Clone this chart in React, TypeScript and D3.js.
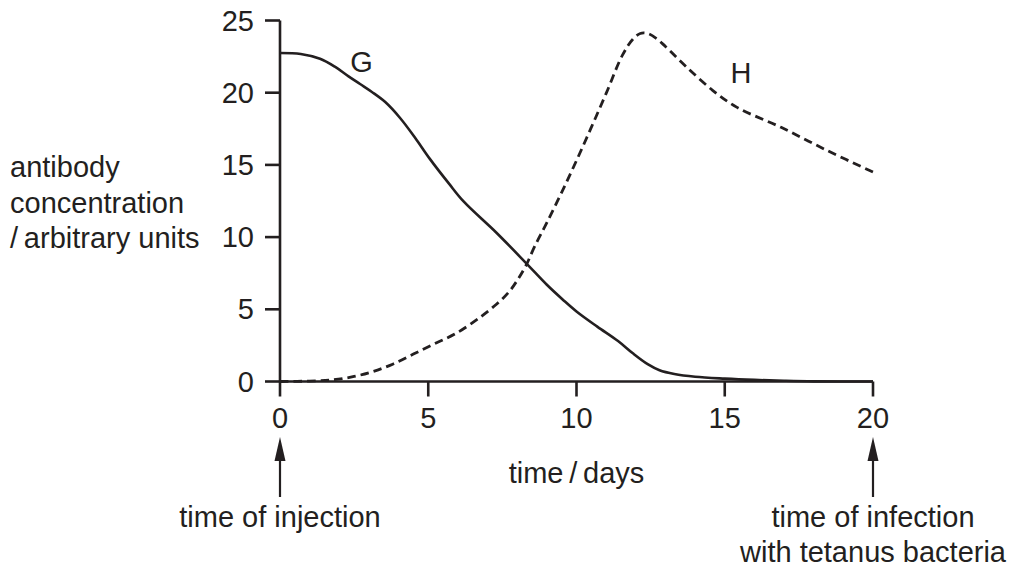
import React from "react";
import * as d3 from "d3";

const xTicks = [0, 5, 10, 15, 20];
const yTicks = [0, 5, 10, 15, 20, 25];

const seriesG: [number, number][] = [
  [0, 22.75], [0.7, 22.68], [1.35, 22.35], [1.85, 21.8], [2.3, 21.15], [2.7, 20.6],
  [3.1, 20.05], [3.55, 19.35], [4.05, 18.25], [4.55, 16.9], [5.06, 15.4],
  [5.7, 13.7], [6.2, 12.45], [7.3, 10.3], [8.3, 8.2], [9.0, 6.7], [9.55, 5.65],
  [10.0, 4.85], [10.7, 3.8], [11.4, 2.8], [11.9, 1.95], [12.4, 1.2], [12.8, 0.78],
  [13.3, 0.52], [14.0, 0.33], [15.0, 0.2], [16.0, 0.11], [17.0, 0.05], [18.0, 0.01],
  [20, 0],
];

const seriesH: [number, number][] = [
  [0, 0], [1, 0.03], [1.8, 0.12], [2.5, 0.35], [3.15, 0.7], [3.8, 1.2], [4.5, 1.9],
  [5.2, 2.6], [5.95, 3.35], [6.75, 4.45], [7.3, 5.35], [7.7, 6.15], [8.0, 7.0],
  [8.3, 8.05], [8.6, 9.4], [9.0, 11.0], [9.5, 13.1], [10.0, 15.3], [10.5, 17.6],
  [11.0, 19.95], [11.55, 22.6], [11.9, 23.7], [12.15, 24.1], [12.4, 24.1], [12.7, 23.75],
  [13.0, 23.2], [13.7, 21.8], [14.6, 20.15], [15.4, 19.0], [16.9, 17.6], [18.45, 16.0],
  [20, 14.5],
];

const yLabelLines = ["antibody", "concentration", "/\u2009arbitrary units"];
const curveLabels = [
  { text: "G", x: 2.75, y: 21.4 },
  { text: "H", x: 15.55, y: 20.7 },
];

const INK = "#231f20";
const FONT = "'Liberation Sans', Arial, Helvetica, sans-serif";
const FS = 29;

export default function App() {
  const x = d3.scaleLinear().domain([0, 20]).range([280, 873]);
  const y = d3.scaleLinear().domain([0, 25]).range([381.5, 20.5]);
  const line = d3
    .line<[number, number]>()
    .x((d) => x(d[0]))
    .y((d) => y(d[1]))
    .curve(d3.curveCatmullRom.alpha(0.5));

  const arrow = (cx: number) => (
    <g key={cx}>
      <line x1={cx} x2={cx} y1={455} y2={497} stroke={INK} strokeWidth={2.2} />
      <path d={`M${cx},437 L${cx - 5.5},461 L${cx + 5.5},461 Z`} fill={INK} />
    </g>
  );

  return (
    <svg
      width={1012}
      height={569}
      style={{ position: "absolute", left: 0, top: 0, background: "#fff" }}
      fontFamily={FONT}
    >
      {/* axes */}
      <line x1={x(0)} x2={x(0)} y1={y(25)} y2={y(0)} stroke={INK} strokeWidth={2.6} />
      <line x1={x(0)} x2={x(20)} y1={y(0)} y2={y(0)} stroke={INK} strokeWidth={2.6} />
      {yTicks.map((t) => (
        <g key={"y" + t}>
          <line x1={x(0) - 15} x2={x(0)} y1={y(t)} y2={y(t)} stroke={INK} strokeWidth={2.6} />
          <text x={254} y={y(t) + 10} textAnchor="end" fontSize={FS} fill={INK}>
            {t}
          </text>
        </g>
      ))}
      {xTicks.map((t) => (
        <g key={"x" + t}>
          <line x1={x(t)} x2={x(t)} y1={y(0)} y2={y(0) + 15} stroke={INK} strokeWidth={2.6} />
          <text x={x(t)} y={428} textAnchor="middle" fontSize={FS} fill={INK}>
            {t}
          </text>
        </g>
      ))}

      {/* curves */}
      <path d={line(seriesG) || ""} fill="none" stroke={INK} strokeWidth={2.6} />
      <path
        d={line(seriesH) || ""}
        fill="none"
        stroke={INK}
        strokeWidth={2.8}
        strokeDasharray="8.5 5"
      />

      {curveLabels.map((l) => (
        <text key={l.text} x={x(l.x)} y={y(l.y)} textAnchor="middle" fontSize={FS} fill={INK}>
          {l.text}
        </text>
      ))}

      {/* axis titles */}
      {yLabelLines.map((s, i) => (
        <text key={s} x={10} y={177 + i * 35.5} fontSize={FS} fill={INK}>
          {s}
        </text>
      ))}
      <text x={576.5} y={483} textAnchor="middle" fontSize={FS} fill={INK}>
        {"time\u2009/\u2009days"}
      </text>

      {arrow(x(0))}
      {arrow(x(20))}

      <text x={x(0)} y={527} textAnchor="middle" fontSize={FS} fill={INK}>
        time of injection
      </text>
      <text x={x(20)} y={527} textAnchor="middle" fontSize={FS} fill={INK}>
        time of infection
      </text>
      <text x={x(20)} y={562} textAnchor="middle" fontSize={FS} fill={INK}>
        with tetanus bacteria
      </text>
    </svg>
  );
}
